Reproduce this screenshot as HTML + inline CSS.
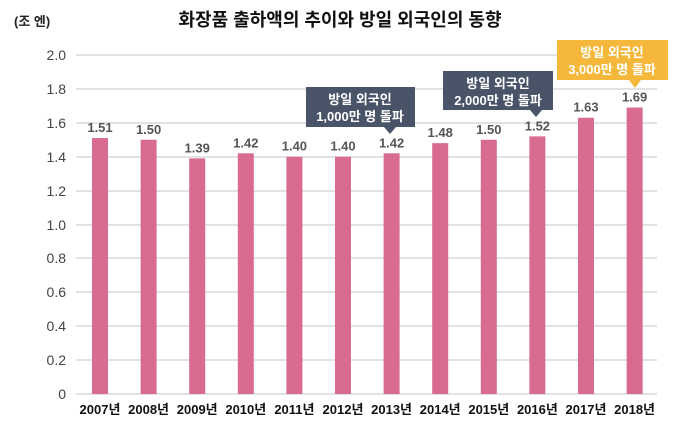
<!DOCTYPE html><html><head><meta charset="utf-8"><style>body{margin:0;background:#fff}</style></head><body>
<svg width="680" height="442" xmlns="http://www.w3.org/2000/svg" font-family="Liberation Sans, Noto Sans CJK KR, sans-serif">
<text x="340" y="26" text-anchor="middle" font-size="18" font-weight="bold" fill="#111">화장품 출하액의 추이와 방일 외국인의 동향</text>
<text x="14" y="26" font-size="13" font-weight="bold" fill="#222">(조 엔)</text>
<g stroke="#d9d9d9" stroke-width="1.5">
<line x1="76" x2="657" y1="55" y2="55"/><line x1="76" x2="657" y1="89" y2="89"/><line x1="76" x2="657" y1="123" y2="123"/><line x1="76" x2="657" y1="157" y2="157"/><line x1="76" x2="657" y1="191" y2="191"/><line x1="76" x2="657" y1="225" y2="225"/><line x1="76" x2="657" y1="258" y2="258"/><line x1="76" x2="657" y1="292" y2="292"/><line x1="76" x2="657" y1="326" y2="326"/><line x1="76" x2="657" y1="360" y2="360"/><line x1="76" x2="657" y1="394" y2="394"/></g>
<g font-size="14" fill="#444" text-anchor="end">
<text x="66" y="60">2.0</text><text x="66" y="94">1.8</text><text x="66" y="128">1.6</text><text x="66" y="162">1.4</text><text x="66" y="196">1.2</text><text x="66" y="230">1.0</text><text x="66" y="263">0.8</text><text x="66" y="297">0.6</text><text x="66" y="331">0.4</text><text x="66" y="365">0.2</text><text x="66" y="399">0</text></g>
<g fill="#d96b8f" id="bars"></g>
<g font-size="13" font-weight="bold" fill="#555" text-anchor="middle" id="vals"></g>
<g font-size="13" font-weight="bold" fill="#111" text-anchor="middle" id="yrs"></g>
<path d="M306 87H415V127H396L390 134L384 127H306Z" fill="#4a5468"/>
<text x="360" y="104" font-size="13" font-weight="bold" fill="#fff" text-anchor="middle">방일 외국인</text>
<text x="360" y="121" font-size="13" font-weight="bold" fill="#fff" text-anchor="middle">1,000만 명 돌파</text>
<path d="M443 71H553V110H542L536 117L530 110H443Z" fill="#4a5468"/>
<text x="498" y="88" font-size="13" font-weight="bold" fill="#fff" text-anchor="middle">방일 외국인</text>
<text x="498" y="105" font-size="13" font-weight="bold" fill="#fff" text-anchor="middle">2,000만 명 돌파</text>
<path d="M557 40H668V80H641L635 88L629 80H557Z" fill="#f5b83a"/>
<text x="612" y="57" font-size="13" font-weight="bold" fill="#fff" text-anchor="middle">방일 외국인</text>
<text x="612" y="74" font-size="13" font-weight="bold" fill="#fff" text-anchor="middle">3,000만 명 돌파</text>
</svg>
<script>
var v=[1.51,1.50,1.39,1.42,1.40,1.40,1.42,1.48,1.50,1.52,1.63,1.69],ns="http://www.w3.org/2000/svg";
v.forEach(function(d,i){var cx=100+i*48.6,y=394-d*169.5;
var r=document.createElementNS(ns,"rect");r.setAttribute("x",cx-8);r.setAttribute("y",y);r.setAttribute("width",16);r.setAttribute("height",394-y);document.getElementById("bars").appendChild(r);
var t=document.createElementNS(ns,"text");t.setAttribute("x",cx);t.setAttribute("y",y-6);t.textContent=d.toFixed(2);document.getElementById("vals").appendChild(t);
var u=document.createElementNS(ns,"text");u.setAttribute("x",cx);u.setAttribute("y",414);u.textContent=(2007+i)+"년";document.getElementById("yrs").appendChild(u);});
</script>
</body></html>
